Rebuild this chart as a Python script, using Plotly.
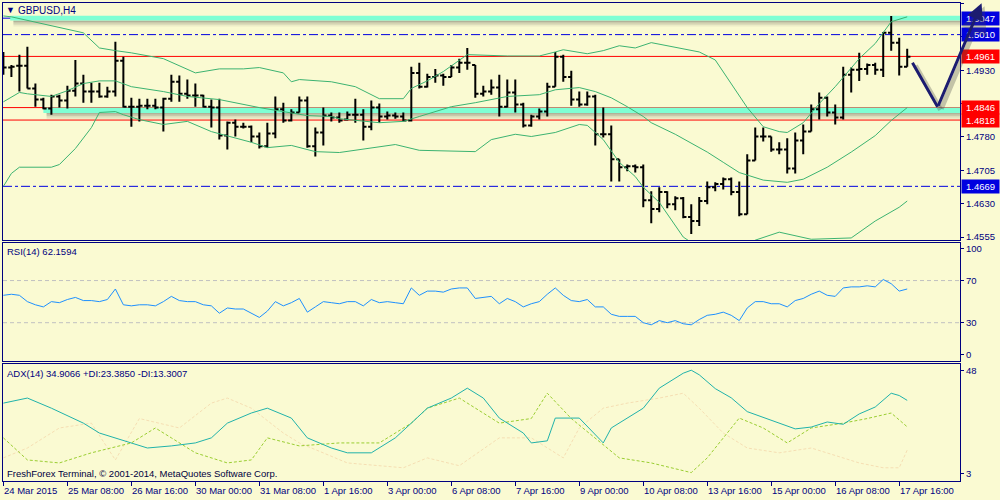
import plotly.graph_objects as go

W, H = 1000, 500
BG = "#FAFAD2"
NAVY = "#000080"
FONT = "Liberation Sans"
FS = 9.5

# ---------------- data ----------------
bars = list(range(114))
x_labels_idx = list(range(0, 113, 8))
x_labels = ["24 Mar 2015", "25 Mar 08:00", "26 Mar 16:00", "30 Mar 00:00", "31 Mar 08:00",
            "1 Apr 16:00", "3 Apr 00:00", "6 Apr 08:00", "7 Apr 16:00", "9 Apr 00:00",
            "10 Apr 08:00", "13 Apr 16:00", "15 Apr 00:00", "16 Apr 08:00", "17 Apr 16:00"]

opens = [1.4953, 1.4936, 1.4940, 1.4940, 1.4889, 1.4864, 1.4844, 1.4871, 1.4862, 1.4884,
         1.4900, 1.4882, 1.4882, 1.4871, 1.4882, 1.4951, 1.4848, 1.4848, 1.4850, 1.4850,
         1.4846, 1.4866, 1.4904, 1.4877, 1.4873, 1.4873, 1.4848, 1.4846, 1.4783, 1.4812,
         1.4803, 1.4803, 1.4781, 1.4759, 1.4788, 1.4842, 1.4817, 1.4835, 1.4862, 1.4759,
         1.4790, 1.4828, 1.4824, 1.4819, 1.4830, 1.4830, 1.4803, 1.4846, 1.4826, 1.4828,
         1.4826, 1.4817, 1.4924, 1.4893, 1.4915, 1.4918, 1.4915, 1.4936, 1.4947, 1.4942,
         1.4877, 1.4882, 1.4891, 1.4848, 1.4880, 1.4853, 1.4806, 1.4826, 1.4837, 1.4893,
         1.4960, 1.4915, 1.4864, 1.4853, 1.4871, 1.4786, 1.4786, 1.4730, 1.4712, 1.4714,
         1.4712, 1.4638, 1.4618, 1.4656, 1.4629, 1.4642, 1.4600, 1.4591, 1.4636, 1.4667,
         1.4674, 1.4685, 1.4656, 1.4606, 1.4727, 1.4781, 1.4781, 1.4752, 1.4752, 1.4709,
         1.4772, 1.4792, 1.4842, 1.4868, 1.4835, 1.4824, 1.4920, 1.4931, 1.4933, 1.4942,
         1.4931, 1.5014, 1.4992, 1.4938]
highs = [1.4971, 1.4942, 1.4965, 1.4983, 1.4900, 1.4868, 1.4875, 1.4875, 1.4895, 1.4953,
         1.4920, 1.4902, 1.4902, 1.4893, 1.4994, 1.4960, 1.4868, 1.4866, 1.4866, 1.4866,
         1.4868, 1.4920, 1.4918, 1.4909, 1.4900, 1.4875, 1.4864, 1.4866, 1.4815, 1.4819,
         1.4812, 1.4806, 1.4790, 1.4812, 1.4871, 1.4857, 1.4842, 1.4871, 1.4871, 1.4801,
         1.4846, 1.4835, 1.4835, 1.4837, 1.4866, 1.4842, 1.4862, 1.4855, 1.4837, 1.4835,
         1.4835, 1.4938, 1.4947, 1.4922, 1.4933, 1.4922, 1.4942, 1.4956, 1.4980, 1.4942,
         1.4895, 1.4909, 1.4920, 1.4909, 1.4909, 1.4857, 1.4830, 1.4844, 1.4902, 1.4971,
         1.4965, 1.4929, 1.4882, 1.4882, 1.4875, 1.4846, 1.4806, 1.4730, 1.4718, 1.4718,
         1.4718, 1.4658, 1.4667, 1.4658, 1.4647, 1.4645, 1.4629, 1.4645, 1.4680, 1.4678,
         1.4689, 1.4689, 1.4680, 1.4741, 1.4801, 1.4801, 1.4781, 1.4768, 1.4777, 1.4790,
         1.4808, 1.4853, 1.4880, 1.4871, 1.4853, 1.4938, 1.4936, 1.4969, 1.4945, 1.4947,
         1.5016, 1.5052, 1.5003, 1.4978]
lows = [1.4920, 1.4915, 1.4882, 1.4889, 1.4848, 1.4842, 1.4830, 1.4846, 1.4844, 1.4871,
        1.4857, 1.4857, 1.4868, 1.4868, 1.4871, 1.4846, 1.4803, 1.4815, 1.4842, 1.4842,
        1.4792, 1.4859, 1.4859, 1.4866, 1.4848, 1.4846, 1.4801, 1.4774, 1.4752, 1.4781,
        1.4799, 1.4768, 1.4754, 1.4756, 1.4777, 1.4812, 1.4815, 1.4835, 1.4756, 1.4736,
        1.4761, 1.4815, 1.4812, 1.4817, 1.4812, 1.4772, 1.4795, 1.4812, 1.4819, 1.4821,
        1.4815, 1.4815, 1.4889, 1.4891, 1.4902, 1.4895, 1.4915, 1.4924, 1.4931, 1.4868,
        1.4871, 1.4875, 1.4826, 1.4846, 1.4835, 1.4801, 1.4803, 1.4819, 1.4826, 1.4893,
        1.4904, 1.4850, 1.4848, 1.4850, 1.4761, 1.4779, 1.4680, 1.4680, 1.4703, 1.4700,
        1.4622, 1.4586, 1.4611, 1.4620, 1.4615, 1.4597, 1.4562, 1.4580, 1.4629, 1.4658,
        1.4662, 1.4649, 1.4602, 1.4606, 1.4727, 1.4770, 1.4747, 1.4741, 1.4698, 1.4698,
        1.4741, 1.4792, 1.4819, 1.4826, 1.4808, 1.4819, 1.4880, 1.4906, 1.4920, 1.4920,
        1.4915, 1.4974, 1.4918, 1.4938]
closes = [1.4936, 1.4938, 1.4940, 1.4889, 1.4864, 1.4844, 1.4871, 1.4862, 1.4884, 1.4900,
          1.4882, 1.4882, 1.4871, 1.4882, 1.4951, 1.4848, 1.4848, 1.4850, 1.4850, 1.4846,
          1.4866, 1.4904, 1.4877, 1.4873, 1.4873, 1.4848, 1.4846, 1.4783, 1.4812, 1.4803,
          1.4803, 1.4781, 1.4759, 1.4788, 1.4842, 1.4817, 1.4835, 1.4862, 1.4759, 1.4790,
          1.4828, 1.4824, 1.4817, 1.4830, 1.4830, 1.4803, 1.4846, 1.4826, 1.4828, 1.4826,
          1.4817, 1.4924, 1.4893, 1.4915, 1.4918, 1.4915, 1.4936, 1.4947, 1.4947, 1.4877,
          1.4882, 1.4891, 1.4848, 1.4880, 1.4853, 1.4806, 1.4826, 1.4837, 1.4893, 1.4960,
          1.4915, 1.4864, 1.4853, 1.4871, 1.4786, 1.4786, 1.4730, 1.4712, 1.4714, 1.4712,
          1.4638, 1.4618, 1.4656, 1.4629, 1.4642, 1.4600, 1.4591, 1.4636, 1.4667, 1.4674,
          1.4685, 1.4656, 1.4606, 1.4727, 1.4781, 1.4781, 1.4752, 1.4752, 1.4709, 1.4772,
          1.4792, 1.4842, 1.4868, 1.4835, 1.4824, 1.4920, 1.4931, 1.4933, 1.4942, 1.4931,
          1.5014, 1.4992, 1.4938, 1.4960]

# Bollinger bands read at selected bars
bb_up_idx = [0, 1, 10, 12, 14, 16, 20, 24, 27, 30, 32, 35, 36, 37, 41, 44, 47, 50, 51, 53,
             55, 57, 58, 63, 67, 69, 70, 73, 75, 77, 79, 81, 87, 89, 91, 93, 95, 97, 98, 100,
             102, 104, 107, 109, 111, 113]
bb_up = [1.5052, 1.5050, 1.5014, 1.4980, 1.4974, 1.4969, 1.4956, 1.4924, 1.4933, 1.4933,
         1.4936, 1.4924, 1.4904, 1.4909, 1.4904, 1.4893, 1.4866, 1.4866, 1.4889, 1.4906,
         1.4927, 1.4953, 1.4965, 1.4962, 1.4962, 1.4971, 1.4976, 1.4967, 1.4974, 1.4985,
         1.4980, 1.4992, 1.4971, 1.4953, 1.4900, 1.4846, 1.4803, 1.4792, 1.4790, 1.4812,
         1.4855, 1.4893, 1.4956, 1.4990, 1.5039, 1.5050]
bb_mid_idx = [0, 2, 3, 6, 8, 10, 12, 14, 16, 20, 23, 27, 32, 35, 38, 41, 42, 47, 50, 52,
              56, 59, 63, 67, 69, 72, 74, 76, 78, 80, 81, 84, 88, 90, 92, 95, 98, 100, 103, 106,
              109, 111, 113]
bb_mid = [1.4859, 1.4880, 1.4877, 1.4871, 1.4884, 1.4900, 1.4906, 1.4906, 1.4893, 1.4882,
          1.4871, 1.4864, 1.4846, 1.4837, 1.4828, 1.4826, 1.4821, 1.4812, 1.4815, 1.4826,
          1.4848, 1.4857, 1.4871, 1.4875, 1.4886, 1.4891, 1.4882, 1.4868, 1.4848, 1.4826,
          1.4812, 1.4786, 1.4746, 1.4723, 1.4700, 1.4683, 1.4678, 1.4685, 1.4712, 1.4746,
          1.4783, 1.4817, 1.4846]
bb_low_idx = [0, 1, 2, 6, 7, 9, 11, 12, 14, 15, 17, 20, 23, 26, 31, 33, 36, 39, 42, 49,
              52, 59, 61, 64, 66, 69, 72, 73, 75, 77, 79, 80, 82, 85, 88, 91, 94, 97, 101, 106,
              109, 112, 113]
bb_low = [1.4669, 1.4698, 1.4712, 1.4712, 1.4718, 1.4754, 1.4801, 1.4835, 1.4837, 1.4830,
          1.4819, 1.4808, 1.4815, 1.4792, 1.4768, 1.4756, 1.4761, 1.4747, 1.4745, 1.4763,
          1.4750, 1.4747, 1.4774, 1.4786, 1.4781, 1.4790, 1.4808, 1.4806, 1.4774, 1.4723,
          1.4691, 1.4667, 1.4633, 1.4555, 1.4519, 1.4524, 1.4548, 1.4566, 1.4550, 1.4553,
          1.4591, 1.4622, 1.4636]

# horizontal levels
level_prices = [1.5047, 1.5010, 1.4961, 1.4846, 1.4818, 1.4669]
level_colors = ["#0000E0", "#0000E0", "#FF0000", "#FF0000", "#FF0000", "#0000E0"]
level_dash = ["dashdot", "dashdot", "solid", "solid", "solid", "dashdot"]
# highlighted zones: [low, high] prices and starting bar
zone_low = [1.50419, 1.48338]
zone_high = [1.50525, 1.48460]
zone_start = [0.85, 5.0]

# forecast arrow vertices (bar, price)
arrow_bars = [113.55, 116.8, 122.3]
arrow_prices = [1.49497, 1.48476, 1.50804]

# RSI(14)
rsi = [56, 57, 56, 50, 47, 45, 50, 49, 52, 54,
       51, 51, 50, 52, 62, 47, 46, 47, 47, 46,
       50, 55, 51, 50, 50, 47, 46, 39, 44, 43,
       43, 39, 35, 41, 50, 46, 49, 53, 40, 45,
       50, 49, 48, 50, 50, 46, 52, 49, 50, 49,
       48, 63, 56, 60, 60, 59, 62, 63, 63, 53,
       54, 55, 48, 53, 50, 45, 48, 50, 57, 63,
       56, 51, 50, 52, 45, 45, 38, 36, 36, 36,
       30, 28, 32, 30, 32, 29, 28, 33, 37, 38,
       40, 37, 32, 44, 50, 50, 48, 48, 45, 51,
       53, 57, 60, 56, 55, 63, 64, 64, 65, 64,
       71, 67, 60, 62]
rsi_levels = [70, 30]

# ADX(14) read at selected bars
adx_idx = [0, 3, 6, 10, 12, 16, 18, 21, 24, 26, 28, 31, 33, 36, 38, 41, 43, 46, 47, 49,
           51, 53, 56, 58, 60, 62, 65, 66, 68, 69, 72, 75, 76, 80, 82, 85, 86, 87, 89, 91,
           93, 97, 99, 101, 103, 105, 107, 109, 111, 112, 113]
adx = [33.7, 35.9, 31.5, 25.0, 20.7, 16.4, 14.2, 15.1, 16.4, 18.6, 25.0, 29.4, 31.5, 27.2,
       18.6, 14.2, 12.1, 12.1, 14.2, 18.6, 25.0, 31.5, 35.9, 40.2, 35.9, 27.2, 20.7, 16.4,
       17.3, 27.2, 27.2, 16.4, 22.9, 31.5, 40.2, 46.7, 48.0, 46.0, 40.0, 36.0, 30.0, 25.0,
       22.5, 23.3, 25.5, 24.5, 29.0, 32.0, 38.0, 37.0, 34.9]
pdi_idx = [0, 3, 7, 11, 16, 19, 21, 24, 28, 31, 33, 37, 42, 47, 51, 53, 57, 59, 62, 66,
           68, 71, 74, 77, 81, 86, 88, 92, 95, 98, 101, 105, 108, 111, 113]
pdi = [18.6, 9.0, 7.7, 12.1, 16.4, 22.9, 18.6, 12.1, 7.7, 9.0, 18.6, 15.1, 16.4, 16.4,
       25.0, 31.5, 35.9, 31.5, 25.0, 27.0, 38.0, 27.0, 18.6, 9.9, 7.7, 3.5, 9.9, 27.2,
       22.9, 16.4, 22.9, 25.0, 27.0, 29.4, 23.4]
mdi_idx = [0, 3, 7, 11, 14, 17, 22, 26, 28, 31, 35, 37, 43, 50, 53, 57, 62, 66, 70, 72,
           75, 78, 82, 85, 87, 90, 93, 97, 101, 107, 110, 112, 113]
mdi = [9.9, 14.2, 22.9, 25.0, 9.0, 27.0, 22.9, 33.7, 35.9, 31.5, 20.7, 16.4, 7.7, 5.6,
       9.9, 6.5, 18.6, 18.6, 9.9, 22.9, 31.5, 33.7, 35.9, 38.0, 31.5, 20.7, 14.2, 12.1,
       14.2, 7.7, 5.6, 5.6, 13.3]

price_ticks = [1.5080, 1.5005, 1.4930, 1.4855, 1.4780, 1.4705, 1.4630, 1.4555]
rsi_ticks = [100, 70, 30, 0]
adx_ticks = [48, 3]

# ---------------- layout geometry ----------------
X_RANGE = [-0.05, 119.6]
XD = [0.003, 0.960]
Y1_RANGE = [1.45483, 1.50811]
Y1D = [1 - 241 / H, 1 - 3 / H]
Y2_RANGE = [-6.4, 106.1]
Y2D = [1 - 362.5 / H, 1 - 243.5 / H]
Y3_RANGE = [0.04, 50.9]
Y3D = [1 - 482.5 / H, 1 - 365 / H]


def to_paper(b, p):
    px = XD[0] + (b - X_RANGE[0]) / (X_RANGE[1] - X_RANGE[0]) * (XD[1] - XD[0])
    py = Y1D[0] + (p - Y1_RANGE[0]) / (Y1_RANGE[1] - Y1_RANGE[0]) * (Y1D[1] - Y1D[0])
    return px, py


fig = go.Figure()

# Bollinger bands
for xi, yv in ((bb_up_idx, bb_up), (bb_mid_idx, bb_mid), (bb_low_idx, bb_low)):
    fig.add_trace(go.Scatter(x=xi, y=yv, mode="lines", line=dict(color="#3CB371", width=1),
                             xaxis="x", yaxis="y", hoverinfo="skip", showlegend=False))

fig.add_trace(go.Ohlc(x=bars, open=opens, high=highs, low=lows, close=closes,
                      increasing=dict(line=dict(color="black", width=2)),
                      decreasing=dict(line=dict(color="black", width=2)),
                      tickwidth=0.4, xaxis="x", yaxis="y", hoverinfo="skip",
                      showlegend=False))

fig.add_trace(go.Scatter(x=bars, y=rsi, mode="lines", line=dict(color="#1E90FF", width=1),
                         xaxis="x2", yaxis="y2", hoverinfo="skip", showlegend=False))

fig.add_trace(go.Scatter(x=mdi_idx, y=mdi, mode="lines",
                         line=dict(color="#F5DEB3", width=1, dash="3px,2px"),
                         xaxis="x3", yaxis="y3", hoverinfo="skip", showlegend=False))
fig.add_trace(go.Scatter(x=pdi_idx, y=pdi, mode="lines",
                         line=dict(color="#9ACD32", width=1, dash="3px,2px"),
                         xaxis="x3", yaxis="y3", hoverinfo="skip", showlegend=False))
fig.add_trace(go.Scatter(x=adx_idx, y=adx, mode="lines", line=dict(color="#20B2AA", width=1),
                         xaxis="x3", yaxis="y3", hoverinfo="skip", showlegend=False))

shapes = []
px_price = (Y1_RANGE[1] - Y1_RANGE[0]) / (241 - 3)
# zones with shadow
for lo, hi, st in zip(zone_low, zone_high, zone_start):
    for k, op in enumerate([0.38, 0.26, 0.15, 0.07]):
        shapes.append(dict(type="rect", xref="x", yref="y", layer="below",
                           x0=st + 0.4, x1=X_RANGE[1],
                           y0=lo - px_price * (1.5 * (k + 1)), y1=lo - px_price * (1.5 * k),
                           fillcolor=f"rgba(60,60,60,{op})", line=dict(width=0)))
    shapes.append(dict(type="rect", xref="x", yref="y", layer="below",
                       x0=st, x1=X_RANGE[1], y0=lo, y1=hi,
                       fillcolor="#7FFFD4", line=dict(width=0)))
for p, c, d in zip(level_prices, level_colors, level_dash):
    shapes.append(dict(type="line", xref="x domain", yref="y", layer="below",
                       x0=0, x1=1, y0=p, y1=p, line=dict(color=c, width=1, dash=d)))
for lv in rsi_levels:
    shapes.append(dict(type="line", xref="x2 domain", yref="y2", layer="below",
                       x0=0, x1=1, y0=lv, y1=lv, line=dict(color="#C0C0C0", width=1, dash="4px,3px")))

annotations = []
# level price boxes
for p, c in zip(level_prices, level_colors):
    annotations.append(dict(xref="paper", yref="y", x=0.961, y=p, xanchor="left", yanchor="middle",
                            text=f"{p:.4f}", showarrow=False, bgcolor=c, width=35, height=11,
                            borderpad=1, align="center",
                            font=dict(family=FONT, size=FS, color="white")))

# forecast arrow (shadow + line)
pts = [to_paper(b, p) for b, p in zip(arrow_bars, arrow_prices)]
for shadow in (True, False):
    dxp = 3 / W if shadow else 0
    dyp = -3 / H if shadow else 0
    col = "rgba(70,70,70,0.30)" if shadow else "#1C1C70"
    wid = 5 if shadow else 3
    for s in range(2):
        (x0, y0), (x1, y1) = pts[s], pts[s + 1]
        annotations.append(dict(xref="paper", yref="paper", x=x1 + dxp, y=y1 + dyp,
                                ax=(x0 - x1) * W, ay=-(y0 - y1) * H, axref="pixel", ayref="pixel",
                                text="", showarrow=True, arrowcolor=col, arrowwidth=wid,
                                arrowhead=2 if s == 1 else 0, arrowsize=1.1,
                                standoff=0, startstandoff=0))

# titles and texts
annotations += [
    dict(xref="paper", yref="paper", x=4 / W, y=1 - 10.5 / H, xanchor="left", yanchor="middle",
         text="▼", showarrow=False, font=dict(family=FONT, size=9, color=NAVY)),
    dict(xref="paper", yref="paper", x=16 / W, y=1 - 10.5 / H, xanchor="left", yanchor="middle",
         text="GBPUSD,H4", showarrow=False, font=dict(family=FONT, size=FS + 0.5, color=NAVY)),
    dict(xref="paper", yref="paper", x=5 / W, y=1 - 253 / H, xanchor="left", yanchor="middle",
         text="RSI(14) 62.1594", showarrow=False, font=dict(family=FONT, size=FS, color=NAVY)),
    dict(xref="paper", yref="paper", x=5 / W, y=1 - 375 / H, xanchor="left", yanchor="middle",
         text="ADX(14) 34.9066 +DI:23.3850 -DI:13.3007", showarrow=False,
         font=dict(family=FONT, size=FS, color=NAVY)),
    dict(xref="paper", yref="paper", x=5 / W, y=1 - 475 / H, xanchor="left", yanchor="middle",
         text="FreshForex Terminal, © 2001-2014, MetaQuotes Software Corp.", showarrow=False,
         font=dict(family=FONT, size=FS, color="#000040")),
]
for i, t in zip(x_labels_idx, x_labels):
    annotations.append(dict(xref="x3", yref="paper", x=i, y=1 - 492 / H, xanchor="left",
                            yanchor="middle", text=t, showarrow=False, xshift=-1,
                            font=dict(family=FONT, size=FS, color=NAVY)))

axis_common = dict(showgrid=False, zeroline=False, showline=True, mirror=True,
                   linecolor=NAVY, linewidth=1, fixedrange=True)
yfont = dict(family=FONT, size=FS, color=NAVY)

fig.update_layout(
    width=W, height=H, margin=dict(l=0, r=0, t=0, b=0),
    paper_bgcolor=BG, plot_bgcolor=BG, showlegend=False,
    xaxis=dict(domain=XD, range=X_RANGE, anchor="y", showticklabels=False, ticks="",
               rangeslider=dict(visible=False), **axis_common),
    xaxis2=dict(domain=XD, range=X_RANGE, anchor="y2", showticklabels=False, ticks="",
                **axis_common),
    xaxis3=dict(domain=XD, range=X_RANGE, anchor="y3", showticklabels=False, ticks="outside",
                tickvals=x_labels_idx, ticklen=4, tickcolor=NAVY, **axis_common),
    yaxis=dict(domain=Y1D, range=Y1_RANGE, anchor="x", side="right", tickvals=price_ticks,
               ticktext=[f"{v:.4f}" for v in price_ticks], ticks="outside", ticklen=3,
               tickcolor=NAVY, tickfont=yfont, **axis_common),
    yaxis2=dict(domain=Y2D, range=Y2_RANGE, anchor="x2", side="right", tickvals=rsi_ticks,
                ticks="outside", ticklen=3, tickcolor=NAVY, tickfont=yfont, **axis_common),
    yaxis3=dict(domain=Y3D, range=Y3_RANGE, anchor="x3", side="right", tickvals=adx_ticks,
                ticks="outside", ticklen=3, tickcolor=NAVY, tickfont=yfont, **axis_common),
    shapes=shapes, annotations=annotations,
)

fig.write_html("out.html", config={"displayModeBar": False},
               post_script="document.body.style.margin='0';document.body.style.padding='0';"
                           "document.body.style.background='" + BG + "';")
